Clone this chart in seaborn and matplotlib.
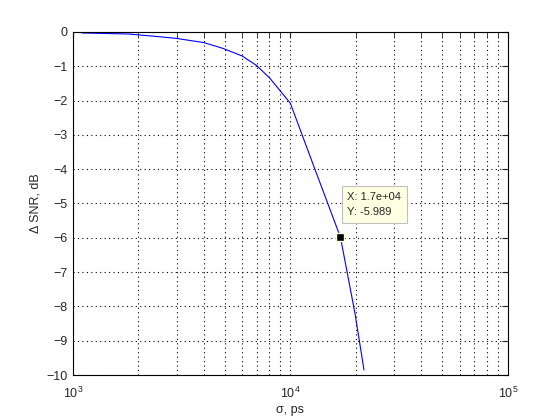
import math
import matplotlib
matplotlib.use("Agg")
import matplotlib.pyplot as plt
import matplotlib.ticker as mticker
import seaborn as sns
import pandas as pd

# curve
sigma_ps = [1100, 1800, 2500, 3000, 4000, 4900, 6000, 7000, 8050, 10000, 13000, 17000, 19800, 21800]
delta_snr = [-0.03, -0.06, -0.14, -0.19, -0.31, -0.48, -0.70, -0.98, -1.35, -2.08, -4.02, -5.989, -8.19, -9.85]

tip_x = 17000
tip_y = -5.989

df = pd.DataFrame({"sigma": sigma_ps, "snr": delta_snr})

sns.set_style("white")
plt.rcParams["font.family"] = ["Liberation Sans", "DejaVu Sans"]
plt.rcParams["mathtext.fontset"] = "custom"
plt.rcParams["mathtext.rm"] = "Liberation Sans"

fig = plt.figure(figsize=(5.6, 4.2), dpi=100)
ax = fig.add_axes([0.13, 0.107, 0.777, 0.817])

sns.lineplot(data=df, x="sigma", y="snr", ax=ax, color="#0000ff", linewidth=0.8)

ax.set_xscale("log")
ax.set_xlim(1e3, 1e5)
ax.set_ylim(-10, 0)
ax.set_yticks(range(-10, 1))
ax.xaxis.set_major_formatter(mticker.FuncFormatter(lambda v, p: r"$\mathregular{10^{%d}}$" % round(math.log10(v))))

dots = (0, (1, 3))
ax.grid(True, which="major", linestyle=dots, color="black", linewidth=0.8)
ax.grid(True, which="minor", axis="x", linestyle=dots, color="black", linewidth=0.8)
ax.tick_params(which="both", direction="in", top=True, right=True, labelsize=9, length=4)
ax.tick_params(axis="x", pad=8)
for s in ax.spines.values():
    s.set_color("black")
    s.set_linewidth(0.8)

ax.set_xlabel("σ, ps", fontsize=9, labelpad=2)
ax.set_ylabel("Δ SNR, dB", fontsize=9)

# data tip
ax.plot([tip_x], [tip_y], marker="s", color="black", markersize=6,
        markeredgecolor="#ffffe1", markeredgewidth=1)
ax.annotate("X: 1.7e+04\nY: -5.989", xy=(tip_x, tip_y), xytext=(5, 16),
            textcoords="offset points", fontsize=8, linespacing=1.7,
            bbox=dict(boxstyle="square,pad=0.5", fc="#ffffe1", ec="#c0c0c0", lw=0.8))

fig.savefig("out.png", dpi=100, facecolor="white")
